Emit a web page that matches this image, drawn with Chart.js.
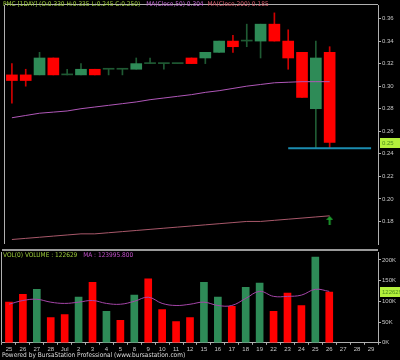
<!DOCTYPE html>
<html>
<head>
<meta charset="utf-8">
<script src="https://cdn.jsdelivr.net/npm/chart.js@4"></script>
<style>
  body { margin: 0; background: #000; width: 400px; height: 360px; overflow: hidden; position: relative; }
  .box { position: absolute; left: 0; width: 400px; }
  .txt { position: absolute; white-space: nowrap; font-family: "Liberation Sans Narrow", "DejaVu Sans Condensed", "Liberation Sans", sans-serif; font-size: 6.5px; line-height: 7px; }
  #volTop { position: absolute; left: 2px; top: 249px; width: 376px; height: 0; border-top: 2px solid #9a9a9a; }
</style>
</head>
<body>
<div class="box" style="top:0;height:249px"><canvas id="priceChart"></canvas></div>
<div class="box" style="top:249px;height:105px"><canvas id="volChart"></canvas></div>
<div id="volTop"></div>

<div class="txt" style="left:3px;top:1px">
  <span style="color:#9ccc3a">PMC [1DAY] (O:0.330 H:0.335 L:0.245 C:0.250)</span>
  <span style="color:#c46ad6;margin-left:4px">MA(Close,50) 0.304</span>
  <span style="color:#d65c6c;margin-left:2px">MA(Close,200) 0.185</span>
</div>
<div class="txt" style="left:3px;top:252px">
  <span style="color:#9ccc3a">VOL(0) VOLUME : 122629</span>
  <span style="color:#c050c8;margin-left:4px">MA : 123995.800</span>
</div>
<div class="txt" style="left:2px;top:352px;color:#dcdcdc">Powered by BursaStation Professional (www.bursastation.com)</div>

<script>
// dates (last three are empty slots)
const dates = ['25', '26', '27', '28', 'Jul', '2', '3', '4', '5', '8', '9', '10', '11', '12',
  '15', '16', '17', '18', '19', '22', '23', '24', '25', '26', '27', '28', '29'];

// OHLC
const opens  = [0.310, 0.310, 0.310, 0.325, 0.310, 0.310, 0.315, 0.315, 0.315, 0.315, 0.320, 0.320,
  0.320, 0.325, 0.325, 0.330, 0.340, 0.340, 0.340, 0.355, 0.340, 0.330, 0.280, 0.330];
const highs  = [0.320, 0.315, 0.330, 0.325, 0.315, 0.320, 0.315, 0.315, 0.315, 0.325, 0.325, 0.320,
  0.320, 0.325, 0.330, 0.340, 0.345, 0.355, 0.355, 0.365, 0.350, 0.330, 0.340, 0.335];
const lows   = [0.285, 0.300, 0.310, 0.310, 0.310, 0.310, 0.310, 0.310, 0.310, 0.315, 0.320, 0.315,
  0.320, 0.320, 0.320, 0.330, 0.330, 0.335, 0.325, 0.340, 0.315, 0.290, 0.245, 0.245];
const closes = [0.305, 0.305, 0.325, 0.310, 0.310, 0.315, 0.310, 0.315, 0.315, 0.320, 0.320, 0.320,
  0.320, 0.320, 0.330, 0.340, 0.335, 0.340, 0.355, 0.340, 0.325, 0.290, 0.325, 0.250];

// moving averages
const ma50  = [0.272, 0.274, 0.276, 0.277, 0.278, 0.280, 0.2815, 0.283, 0.2845, 0.286, 0.288, 0.2895,
  0.291, 0.2925, 0.2945, 0.296, 0.298, 0.300, 0.3015, 0.303, 0.3035, 0.304, 0.304, 0.304];
const ma200 = [0.164, 0.165, 0.166, 0.167, 0.168, 0.169, 0.169, 0.170, 0.171, 0.172, 0.173, 0.174,
  0.175, 0.176, 0.177, 0.178, 0.179, 0.180, 0.180, 0.181, 0.182, 0.183, 0.184, 0.185];

// support line (from 23 Jul onward) and buy arrow
const support = [null, null, null, null, null, null, null, null, null, null, null, null,
  null, null, null, null, null, null, null, null, 0.245, 0.245, 0.245, 0.245, 0.245, 0.245, 0.245];
const arrow = [null, null, null, null, null, null, null, null, null, null, null, null,
  null, null, null, null, null, null, null, null, null, null, null, 0.181];

// volume + 5 day MA
const volumes = [98000, 117000, 129000, 61000, 68000, 110000, 146000, 76000, 54000, 115000, 154000, 80000,
  51000, 61000, 146000, 110000, 88000, 134000, 144000, 76000, 120000, 90000, 207000, 122629];
const volMA = [93000, 102000, 105000, 98000, 95000, 98000, 102000, 95000, 93000, 100000, 110000, 95000,
  90000, 93000, 98000, 90000, 90000, 107000, 124000, 112000, 112000, 115000, 129000, 123996];

const priceTicks = [0.18, 0.20, 0.22, 0.24, 0.26, 0.28, 0.30, 0.32, 0.34, 0.36];
const volTicks = [0, 50000, 100000, 150000, 200000];

const RED = '#ff0000', GREEN = '#2e8b57', DOJI = '#1f5a33', AXIS = '#b0b0b0';

const bodyColors = opens.map((o, i) => closes[i] > o ? GREEN : closes[i] < o ? RED : DOJI);
const wickColors = opens.map((o, i) => closes[i] < o ? '#d00000' : DOJI);
const volColors = closes.map((c, i) => i > 0 && c > closes[i - 1] ? GREEN : RED);

// little green up arrow
const arrowImg = document.createElement('canvas');
arrowImg.width = 7; arrowImg.height = 9;
(function () {
  const g = arrowImg.getContext('2d');
  g.fillStyle = '#1c9a2c';
  g.beginPath(); g.moveTo(3.5, 0); g.lineTo(7, 4); g.lineTo(0, 4); g.closePath(); g.fill();
  g.fillRect(2.5, 3, 2, 6);
})();

const tickFont = { family: 'Liberation Sans', size: 6 };

// y axis: fixed width, no extra room for labels at the ends
const fitRight = s => { s.width = 22; s.paddingTop = 0; s.paddingBottom = 0; };

// left/top frame lines and the last value tag on the right axis
const framePlugin = {
  id: 'frame',
  afterDraw(chart, args, opts) {
    const { ctx, chartArea } = chart;
    ctx.save();
    ctx.strokeStyle = AXIS;
    ctx.lineWidth = 1;
    ctx.beginPath();
    ctx.moveTo(chartArea.left - 0.5, chartArea.top);
    ctx.lineTo(chartArea.left - 0.5, chartArea.bottom);
    if (opts.top) {
      ctx.moveTo(chartArea.left, chartArea.top - 0.5);
      ctx.lineTo(chartArea.right, chartArea.top - 0.5);
    }
    ctx.stroke();
    if (opts.tag) {
      const y = chart.scales.y.getPixelForValue(opts.tag.value);
      ctx.fillStyle = '#b4f03c';
      ctx.fillRect(chartArea.right + 2, Math.round(y) - 5, 20, 10);
      ctx.fillStyle = '#4c8c1c';
      ctx.font = '6px "Liberation Sans"';
      ctx.textBaseline = 'middle';
      ctx.fillText(opts.tag.text, chartArea.right + 4, Math.round(y));
    }
    ctx.restore();
  }
};

new Chart(document.getElementById('priceChart'), {
  type: 'bar',
  data: {
    labels: dates,
    datasets: [
      { label: 'MA50', type: 'line', data: ma50, borderColor: '#b057b8', borderWidth: 1, pointRadius: 0, order: 0 },
      { label: 'MA200', type: 'line', data: ma200, borderColor: '#a8586a', borderWidth: 1, pointRadius: 0, order: 0 },
      { label: 'Support', type: 'line', data: support, borderColor: '#1b8db0', borderWidth: 2, pointRadius: 0, order: 0 },
      { label: 'Signal', type: 'line', data: arrow, showLine: false, pointStyle: arrowImg, pointRadius: 4, order: 0 },
      { label: 'Wick', data: lows.map((l, i) => [l, highs[i]]), backgroundColor: wickColors,
        barThickness: 1, grouped: false, order: 2 },
      { label: 'Body', data: opens.map((o, i) => [o, closes[i]]), backgroundColor: bodyColors,
        barThickness: 11, minBarLength: 1, grouped: false, order: 1 }
    ]
  },
  options: {
    responsive: true,
    maintainAspectRatio: false,
    animation: false,
    layout: { padding: { left: 2, top: 1, bottom: 1 } },
    plugins: {
      legend: { display: false },
      tooltip: { enabled: false },
      frame: { top: true, tag: { value: 0.250, text: '0.25' } }
    },
    scales: {
      x: { display: false, offset: true },
      y: {
        position: 'right',
        min: 0.160,
        max: 0.372,
        afterBuildTicks: s => { s.ticks = priceTicks.map(v => ({ value: v })); },
        afterFit: fitRight,
        border: { color: AXIS },
        grid: { drawOnChartArea: false, tickLength: 3, color: AXIS },
        ticks: { font: tickFont, color: '#c8c8c8', padding: 1, callback: v => v.toFixed(2) }
      }
    }
  },
  plugins: [framePlugin]
});

new Chart(document.getElementById('volChart'), {
  type: 'bar',
  data: {
    labels: dates,
    datasets: [
      { label: 'MA', type: 'line', data: volMA, borderColor: '#a545a8', borderWidth: 1, pointRadius: 0,
        tension: 0.4, order: 0 },
      { label: 'Volume', data: volumes, backgroundColor: volColors, barThickness: 7, order: 1 }
    ]
  },
  options: {
    responsive: true,
    maintainAspectRatio: false,
    animation: false,
    layout: { padding: { left: 2, top: 3 } },
    plugins: {
      legend: { display: false },
      tooltip: { enabled: false },
      frame: { tag: { value: 122629, text: '122629' } }
    },
    scales: {
      x: {
        offset: true,
        border: { color: AXIS },
        grid: { drawOnChartArea: false, tickLength: 2, color: AXIS },
        ticks: { font: tickFont, color: '#c8c8c8', padding: 1, maxRotation: 0, autoSkip: false }
      },
      y: {
        position: 'right',
        min: 0,
        max: 219000,
        afterBuildTicks: s => { s.ticks = volTicks.map(v => ({ value: v })); },
        afterFit: fitRight,
        border: { color: AXIS },
        grid: { drawOnChartArea: false, tickLength: 3, color: AXIS },
        ticks: { font: tickFont, color: '#c8c8c8', padding: 1, callback: v => (v / 1000) + 'K' }
      }
    }
  },
  plugins: [framePlugin]
});
</script>
</body>
</html>
